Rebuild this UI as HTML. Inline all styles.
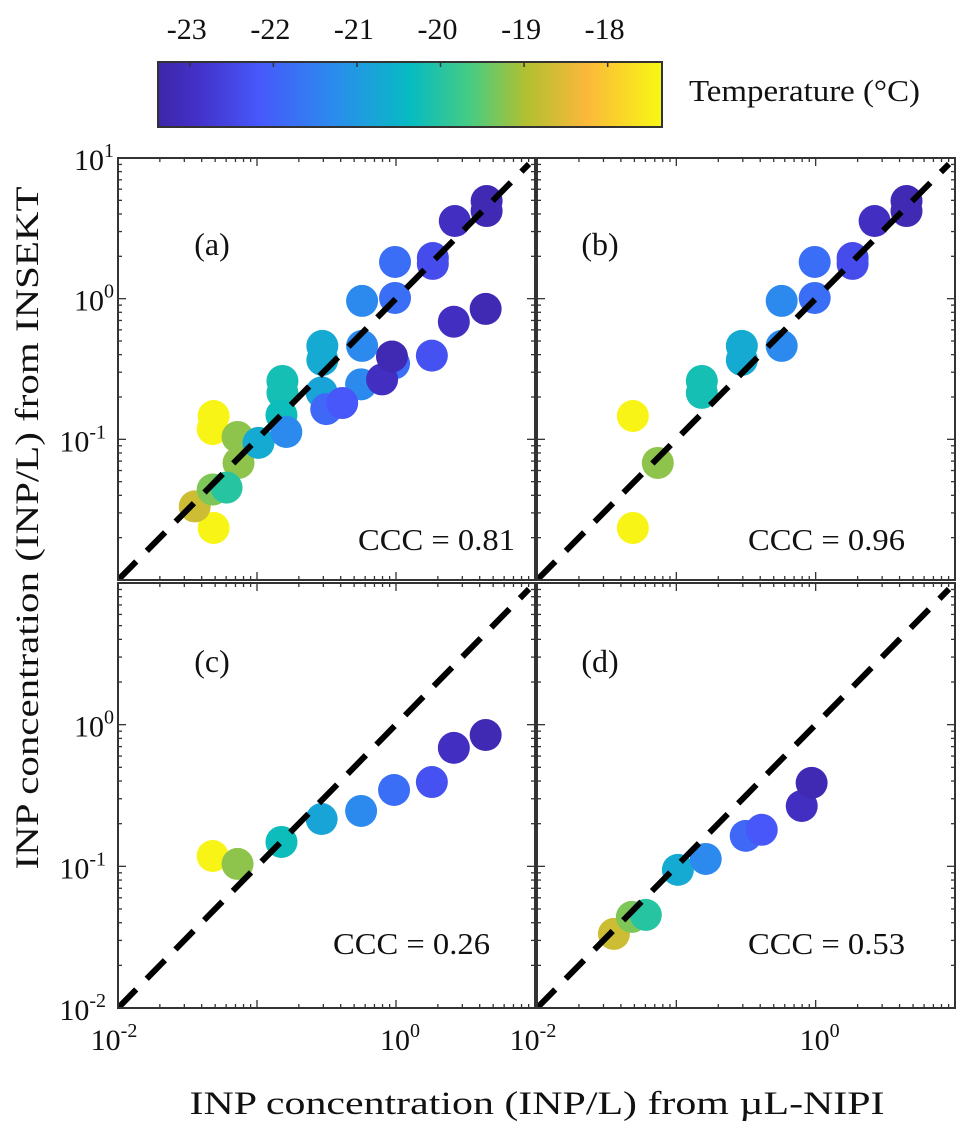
<!DOCTYPE html>
<html><head><meta charset="utf-8"><style>
body{margin:0;background:#fff}
svg text{font-family:"Liberation Serif",serif;fill:#111}
</style></head><body>
<svg id="fig" width="976" height="1141" viewBox="0 0 976 1141">
<defs>
<linearGradient id="cmap" x1="0" x2="1" y1="0" y2="0">
<stop offset="0" stop-color="#3e26a8"/><stop offset="0.08" stop-color="#4331c9"/><stop offset="0.2" stop-color="#4758fb"/>
<stop offset="0.35" stop-color="#2b8cee"/><stop offset="0.5" stop-color="#06bbc2"/><stop offset="0.62" stop-color="#47cc82"/>
<stop offset="0.73" stop-color="#b1c031"/><stop offset="0.85" stop-color="#fbb83a"/><stop offset="1" stop-color="#f8f814"/>
</linearGradient>
</defs>
<g id="cbar"></g>
<g id="panels"></g>
<text x="38" y="528" font-size="33" text-anchor="middle" textLength="683" lengthAdjust="spacingAndGlyphs" transform="rotate(-90 38 528)">INP concentration (INP/L) from INSEKT</text>
<text x="537" y="1114" font-size="33" text-anchor="middle" textLength="695" lengthAdjust="spacingAndGlyphs">INP concentration (INP/L) from µL-NIPI</text>
</svg>
<script>
// Panel (b)
const bX=[0.652,0.652,0.423,0.265,0.265,-0.007,-0.244,-0.007,-0.244,-0.530,-0.530,-0.817,-0.817,-1.312,-1.133,-1.312];
const bY=[0.694,0.623,0.552,0.289,0.247,0.261,-0.016,0.005,-0.336,-0.336,-0.436,-0.585,-0.670,-0.834,-1.168,-1.630];
const bT=[-23.2,-23.2,-23.0,-22.4,-22.4,-21.8,-21.3,-21.8,-21.3,-20.7,-20.7,-20.2,-20.2,-17.4,-19.2,-17.4];
// Panel (c)
const cX=[-1.319,-1.140,-0.824,-0.535,-0.251,-0.014,0.258,0.416,0.645];
const cY=[-0.927,-0.983,-0.828,-0.666,-0.609,-0.461,-0.405,-0.164,-0.073];
const cT=[-17.4,-19.2,-20.3,-20.8,-21.3,-21.8,-22.3,-23.0,-23.2];
// Panel (d)
const dX=[-1.448,-1.319,-1.219,-0.989,-0.789,-0.502,-0.387,-0.100,-0.029];
const dY=[-1.477,-1.357,-1.343,-1.025,-0.948,-0.785,-0.742,-0.574,-0.411];
const dT=[-18.7,-19.3,-20.0,-20.7,-21.3,-21.9,-22.2,-23.0,-23.2];
const cbTicks=[-23,-22,-21,-20,-19,-18];
const cccVals=["0.81","0.96","0.26","0.53"];
const panelLabels=["(a)","(b)","(c)","(d)"];

const NS="http://www.w3.org/2000/svg";
function mk(tag,attrs,parent){const e=document.createElementNS(NS,tag);for(const k in attrs)e.setAttribute(k,attrs[k]);parent.appendChild(e);return e;}
const stops=[[0,[62,38,168]],[0.08,[67,49,201]],[0.2,[71,88,251]],[0.35,[43,140,238]],[0.5,[6,187,194]],[0.62,[71,204,130]],[0.73,[177,192,49]],[0.85,[251,184,58]],[1,[248,248,20]]];
const tMin=-23.38,tMax=-17.35;
function color(t){let f=(t-tMin)/(tMax-tMin);f=Math.max(0,Math.min(1,f));
 for(let i=1;i<stops.length;i++){if(f<=stops[i][0]){const a=stops[i-1],b=stops[i];const u=(f-a[0])/(b[0]-a[0]);
 const c=a[1].map((v,j)=>Math.round(v+(b[1][j]-v)*u));return `rgb(${c})`;}}return 'rgb(248,248,20)';}

const cb=document.getElementById('cbar');
const cbL=158,cbR=662,cbTop=62,cbBot=127;
const cbx=t=>cbL+(t-tMin)/(tMax-tMin)*(cbR-cbL);
const cbr=mk('rect',{x:cbL,y:cbTop,width:cbR-cbL,height:cbBot-cbTop,fill:'url(#cmap)',stroke:'#333','stroke-width':2},cb);


cbTicks.forEach(t=>{const x=cbx(t);
 const l=mk('line',{x1:x,x2:x,y1:cbTop,y2:cbTop+5,stroke:'#333','stroke-width':1.5},cb);
 
 
 const tx=mk('text',{x:x-3,y:39,'font-size':30,'text-anchor':'middle'},cb);tx.textContent=t;
 
 });
const cl=mk('text',{x:689,y:101,'font-size':31,textLength:231,lengthAdjust:'spacingAndGlyphs'},cb);cl.textContent='Temperature (°C)';



const aX=bX.concat(cX,dX),aY=bY.concat(cY,dY),aT=bT.concat(cT,dT);
const panels=[
 {x0:118,x1:535,y0:158,y1:580,X:aX,Y:aY,T:aT,lab:[212,255],ccc:[515,550]},
 {x0:537,x1:955,y0:158,y1:580,X:bX,Y:bY,T:bT,lab:[600,255],ccc:[905,550]},
 {x0:118,x1:535,y0:583,y1:1008,X:cX,Y:cY,T:cT,lab:[212,672],ccc:[490,954]},
 {x0:537,x1:955,y0:583,y1:1008,X:dX,Y:dY,T:dT,lab:[600,672],ccc:[905,954]}];
const root=document.getElementById('panels');
panels.forEach((p,i)=>{
 const g=mk('g',{},root);
 
 
 const sx=v=>p.x0+(v+2)/3*(p.x1-p.x0), sy=v=>p.y1-(v+2)/3*(p.y1-p.y0);
 const cid='clip'+i;const cp=mk('clipPath',{id:cid},g);mk('rect',{x:p.x0,y:p.y0,width:p.x1-p.x0,height:p.y1-p.y0},cp);
 const inner=mk('g',{'clip-path':`url(#${cid})`},g);
 for(let d=-2;d<1;d++)for(let m=1;m<10;m++){const v=d+Math.log10(m);const len=m==1?8:4;
  const x=sx(v),y=sy(v);
  [[x,p.y1,x,p.y1-len],[x,p.y0,x,p.y0+len],[p.x0,y,p.x0+len,y],[p.x1,y,p.x1-len,y]].forEach(c=>{
   const t=mk('line',{x1:c[0],y1:c[1],x2:c[2],y2:c[3],stroke:'#333','stroke-width':1.3},g);
   
   });}
 p.X.forEach((xv,k)=>{const c=mk('circle',{cx:sx(xv),cy:sy(p.Y[k]),r:16,fill:color(p.T[k])},inner);
  
  });
 const ln=mk('line',{x1:sx(-2),y1:sy(-2),x2:sx(1)-6,y2:sy(1)+6,stroke:'#000','stroke-width':6,'stroke-dasharray':'26 15'},inner);
 
 
 const b=mk('rect',{x:p.x0,y:p.y0,width:p.x1-p.x0,height:p.y1-p.y0,fill:'none',stroke:'#333','stroke-width':2},g);
 
 
 const pl=mk('text',{x:p.lab[0],y:p.lab[1],'font-size':32,'text-anchor':'middle'},g);pl.textContent=panelLabels[i];
 
 
 const cc=mk('text',{x:p.ccc[0],y:p.ccc[1],'font-size':31,'text-anchor':'end',textLength:157,lengthAdjust:'spacingAndGlyphs'},g);cc.textContent='CCC = '+cccVals[i];
 
 
 function pow(x,y,e,anchor){const t=mk('text',{x:x,y:y,'font-size':30,'text-anchor':anchor},g);
  
  
  const a=mk('tspan',{},t);a.textContent='10';const s=mk('tspan',{dy:-13,'font-size':20},t);s.textContent=e;}
 if(i==0||i==2){const ys=i==0?[1,0,-1]:[0,-1,-2];ys.forEach(v=>pow(p.x0-4-(v<0?8:0),sy(v)+12,String(v),'end'));}
 if(i>=2){[-2,0].forEach(v=>pow(sx(v)+(v<0?-4:4),p.y1+42,String(v),'middle'));}
});
</script>
</body></html>
